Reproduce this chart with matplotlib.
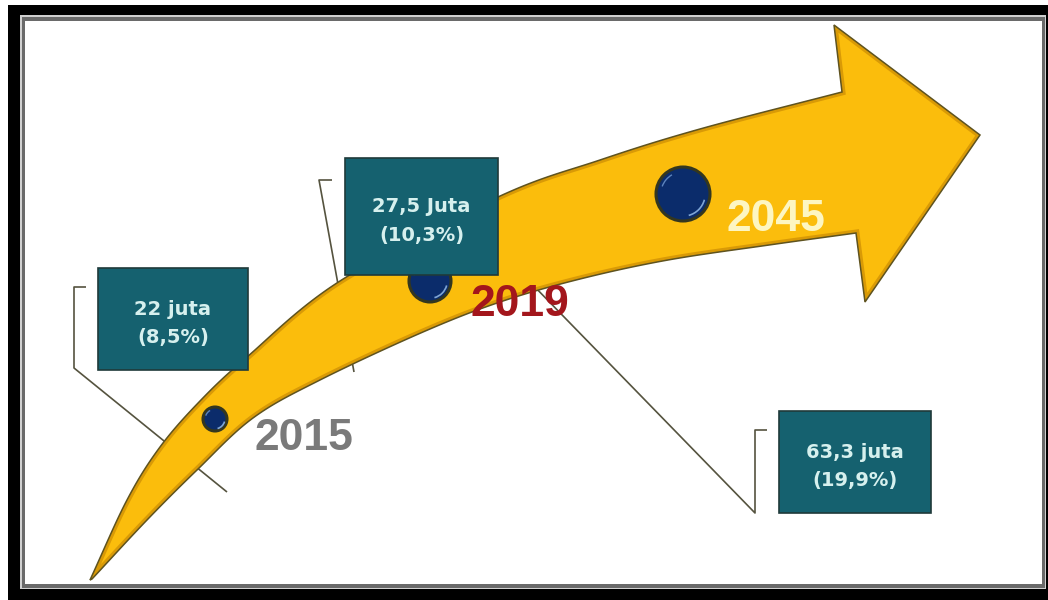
import numpy as np
import matplotlib
matplotlib.use("Agg")
import matplotlib.pyplot as plt
from matplotlib.patches import Polygon, Rectangle, Circle, Arc

# ---- data -------------------------------------------------------------
years = ["2015", "2019", "2045"]
population_juta = [22, 27.5, 63.3]
share_pct = [8.5, 10.3, 19.9]
unit_words = ["juta", "Juta", "juta"]

# ---- layout (pixel coordinates, y grows downward) --------------------
W, H = 1048, 600
box_rects = [(98, 268, 150, 102), (345, 158, 153, 117), (779, 411, 152, 102)]
dot_centers = [(215, 419), (430, 281), (683, 194)]
dot_radii = [12, 21, 27]
year_pos = [(255, 450), (471, 316), (727, 231)]
year_colors = ["#7a7a7a", "#a3161c", "#fdf6c2"]

# bracket leader lines
brackets = [
    [(86, 287), (74, 287), (74, 368), (227, 492)],
    [(332, 180), (319, 180), (354, 372)],
    [(767, 430), (755, 430), (755, 513), (530, 282)],
]

# outline of the curved arrow body and head
upper_edge = [(90, 580), (127, 500), (160, 447), (200, 401), (247, 357),
              (340, 281), (498, 197), (600, 160), (700, 129), (842, 92)]
lower_edge = [(92, 579), (147, 520), (197, 470), (253, 418), (320, 380),
              (423, 332), (500, 302), (580, 279), (668, 260), (769, 245),
              (856, 233)]
head = [(834, 25), (980, 135), (865, 302)]

YELLOW = "#fbbd0c"
TEAL = "#15616f"
BOX_TEXT = "#d6f0ee"


def catmull_rom(pts, n=40):
    pts = np.asarray(pts, float)
    p = np.vstack([2 * pts[0] - pts[1], pts, 2 * pts[-1] - pts[-2]])
    out = []
    t = np.linspace(0, 1, n, endpoint=False)[:, None]
    for i in range(1, len(p) - 2):
        p0, p1, p2, p3 = p[i - 1], p[i], p[i + 1], p[i + 2]
        seg = 0.5 * (2 * p1 + (-p0 + p2) * t
                     + (2 * p0 - 5 * p1 + 4 * p2 - p3) * t ** 2
                     + (-p0 + 3 * p1 - 3 * p2 + p3) * t ** 3)
        out.append(seg)
    out.append(pts[-1][None])
    return np.vstack(out)


def fmt(v):
    return f"{v:g}".replace(".", ",")


fig = plt.figure(figsize=(W / 100, H / 100), dpi=100)
ax = fig.add_axes([0, 0, 1, 1])
ax.set_xlim(0, W)
ax.set_ylim(H, 0)
ax.axis("off")

# ---- frame ------------------------------------------------------------
ax.add_patch(Rectangle((8, 5), W - 8 + 2, H - 5 + 2, facecolor="black",
                       edgecolor="none", zorder=0))
ax.add_patch(Rectangle((20, 15), 1026, 574, facecolor="#d0d0d0",
                       edgecolor="none", zorder=0.1))
ax.add_patch(Rectangle((21.5, 16.5), 1023, 571, facecolor="#6a6a6a",
                       edgecolor="none", zorder=0.2))
ax.add_patch(Rectangle((25, 21), 1017, 563, facecolor="white",
                       edgecolor="none", zorder=0.3))

# ---- leader lines (behind the arrow) ---------------------------------
for br in brackets:
    xs, ys = zip(*br)
    ax.plot(xs, ys, color="#55533f", lw=1.2, solid_capstyle="butt", zorder=1)

# ---- arrow ------------------------------------------------------------
up = catmull_rom(upper_edge)
lo = catmull_rom(lower_edge)
outline = np.vstack([up, np.array(head), lo[::-1]])
arrow = Polygon(outline, closed=True, facecolor=YELLOW, edgecolor="none",
                zorder=2)
ax.add_patch(arrow)
rim = Polygon(outline, closed=True, facecolor="none", edgecolor="#d99a06",
              lw=5, zorder=2.1)
rim.set_clip_path(arrow)
ax.add_patch(rim)
ax.add_patch(Polygon(outline, closed=True, facecolor="none",
                     edgecolor="#5e5320", lw=1.1, zorder=2.2))

# ---- year dots ---------------------------------------------------------
for (cx, cy), r in zip(dot_centers, dot_radii):
    ax.add_patch(Circle((cx, cy), r, facecolor="#0b2c6b", edgecolor="#34371f",
                        lw=2.2, zorder=3))
    ax.add_patch(Arc((cx, cy), 2 * r * 0.82, 2 * r * 0.82, theta1=15,
                     theta2=75, color="#7fa6d6", lw=1.2, zorder=3.1))
    ax.add_patch(Arc((cx, cy), 2 * r * 0.82, 2 * r * 0.82, theta1=200,
                     theta2=240, color="#5d84bd", lw=1.0, zorder=3.1))

# ---- year labels ------------------------------------------------------
for yr, (x, y), c in zip(years, year_pos, year_colors):
    ax.text(x, y, yr, ha="left", va="baseline", fontsize=32,
            fontweight="bold", family="Liberation Sans", color=c, zorder=5)

# ---- value boxes -------------------------------------------------------
for (bx, by, bw, bh), v, pct, word in zip(box_rects, population_juta,
                                          share_pct, unit_words):
    ax.add_patch(Rectangle((bx, by), bw, bh, facecolor=TEAL,
                           edgecolor="#1f3a3a", lw=1.2, zorder=4))
    cx, cy = bx + bw / 2, by + bh / 2
    ax.text(cx, cy - 4, f"{fmt(v)} {word}", ha="center", va="baseline",
            fontsize=14, fontweight="bold", family="DejaVu Sans",
            color=BOX_TEXT, zorder=6)
    ax.text(cx, cy + 24, f"({fmt(pct)}%)", ha="center", va="baseline",
            fontsize=14, fontweight="bold", family="DejaVu Sans",
            color=BOX_TEXT, zorder=6)

fig.savefig("out.png", dpi=100)
